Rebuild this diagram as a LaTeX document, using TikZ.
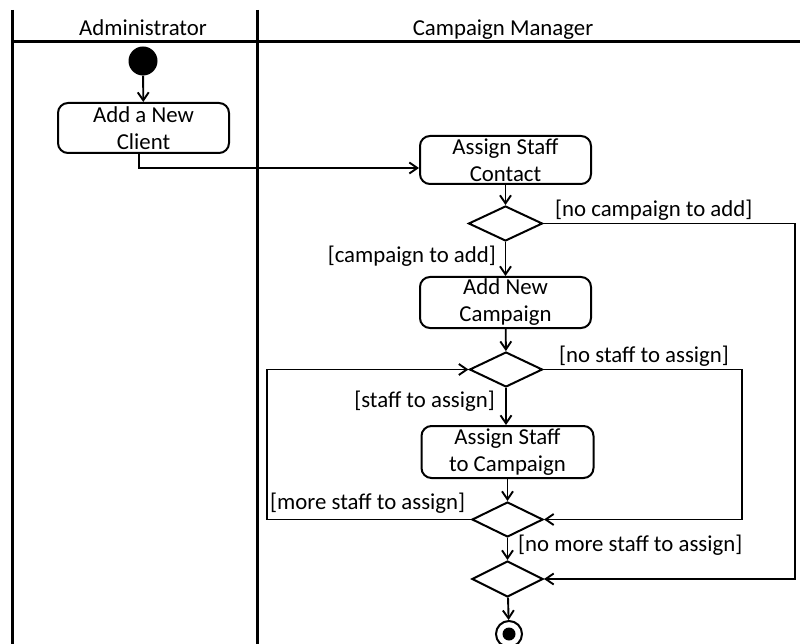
\documentclass[tikz,border=0pt]{standalone}
\usepackage{fontspec}
\setmainfont{Carlito}
\usetikzlibrary{shapes.geometric,arrows.meta,calc}
\begin{document}
\begin{tikzpicture}[x=1pt,y=-1pt,
  font=\fontsize{22.8}{27}\selectfont,
  lane/.style={line width=3pt},
  act/.style={draw, rounded corners=10pt, line width=2pt, minimum width=171pt, minimum height=50pt, align=center, inner sep=0pt},
  dec/.style={draw, diamond, line width=2pt, minimum width=72pt, minimum height=35pt, inner sep=0pt},
  flow/.style={line width=1.9pt, -{Straight Barb[length=8pt,width=11pt]}},
  guard/.style={inner sep=0pt}]
\useasboundingbox (0,0) rectangle (800,644);
% swimlanes
\draw[lane] (12,10) -- (12,644);
\draw[lane] (257,10) -- (257,644);
\draw[lane] (11,42) -- (800,42);
\node[guard, anchor=base] (hadmin) at (143,36) {Administrator};
\node[guard, anchor=base] (hcm) at (503,36) {Campaign Manager};
% nodes
\node[circle, fill=black, minimum size=29pt, inner sep=0pt] (start) at (143,61) {};
\node[act] (client) at (143.5,128) {Add a New\\Client};
\node[act, minimum height=48pt] (contact) at (505.5,160) {Assign Staff\\Contact};
\node[dec, minimum width=74pt] (d1) at (505.5,223.5) {};
\node[act, minimum height=51pt] (camp) at (505.5,302.5) {Add New\\Campaign};
\node[dec, minimum width=73pt] (d2) at (506,369.5) {};
\node[act, minimum width=172pt, minimum height=52pt] (assign) at (507.5,452) {Assign Staff\\to Campaign};
\node[dec, minimum width=71pt] (d3) at (507.5,519.5) {};
\node[dec, minimum width=71pt, minimum height=36pt] (d4) at (507.5,579) {};
\node[circle, draw, line width=2pt, minimum size=26pt, inner sep=0pt] (end) at (509,634) {};
\node[circle, fill=black, minimum size=13pt, inner sep=0pt] (endin) at (end.center) {};
% helper coordinates
\coordinate (c1) at (139,168);
\coordinate (r1) at (795,223.5);
\coordinate (r2) at (742,369.5);
\coordinate (l1) at (267,519.5);
% connectors
\draw[flow] (start) -- (client);
\draw[flow] (client.south -| c1) |- (contact.west |- c1);
\draw[flow] (contact) -- (d1);
\draw[flow] (d1.east) -- (r1) |- (d4.east);
\draw[flow] (d1) -- (camp);
\draw[flow] (camp) -- (d2);
\draw[flow] (d2.east) -- (r2) |- (d3.east);
\draw[flow] (d2.south) -- (d2.south |- assign.north);
\draw[flow] (assign) -- (d3);
\draw[flow] (d3.west) -- (l1) |- (d2.west);
\draw[flow] (d3) -- (d4);
\draw[flow] (d4) -- (end);
% guards
\node[guard, anchor=base west] (g1) at (555,217) {[no campaign to add]};
\node[guard, anchor=base east] (g2) at (496,262) {[campaign to add]};
\node[guard, anchor=base west] (g3) at (559,362) {[no staff to assign]};
\node[guard, anchor=base east] (g4) at (495,407) {[staff to assign]};
\node[guard, anchor=base west] (g5) at (270,509) {[more staff to assign]};
\node[guard, anchor=base west] (g6) at (518,551) {[no more staff to assign]};
\end{tikzpicture}
\end{document}
